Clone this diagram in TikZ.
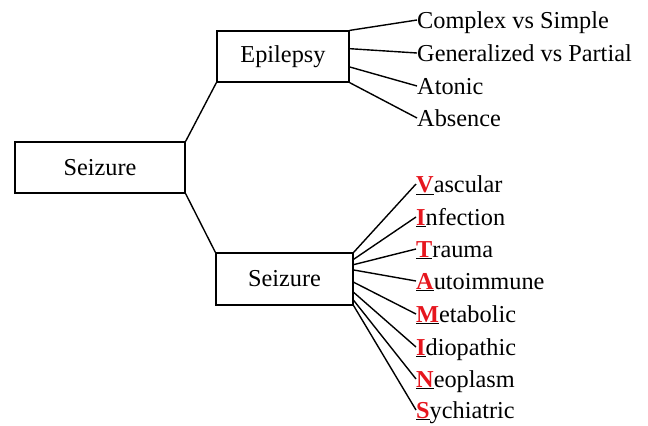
\documentclass[tikz,border=0pt]{standalone}
\usepackage{fontspec}
\setmainfont{LiberationSerif}[Extension=.ttf, UprightFont=*-Regular,
  BoldFont=*-Bold, ItalicFont=*-Italic, BoldItalicFont=*-BoldItalic]
\usetikzlibrary{calc}
\definecolor{initred}{RGB}{230,22,30}
\newcommand{\initial}[1]{\underline{\textcolor{initred}{\textbf{#1}}}}
\begin{document}
\begin{tikzpicture}[x=1bp,y=-1bp,
  box/.style={draw, line width=1.2bp, minimum height=51bp, inner sep=0pt,
    font=\fontsize{24.3bp}{28bp}\selectfont},
  leaf/.style={anchor=west, inner sep=0pt, text height=19bp, text depth=3bp,
    font=\fontsize{24.3bp}{28bp}\selectfont},
  link/.style={line width=1.4bp}]
\useasboundingbox (0,0) rectangle (648,425);

% boxes
\node[box, minimum width=170bp] (root) at (100,167.5) {Seizure};
\node[box, minimum width=132bp] (epi) at (283,56.5) {Epilepsy};
\node[box, minimum width=137bp, minimum height=52bp] (sz) at (284.5,279) {Seizure};

% links from the root
\draw[link] (root.north east) -- (epi.south west);
\draw[link] (root.south east) -- (sz.north west);

% epilepsy subtypes
\node[leaf] (e1) at (417,20) {Complex vs Simple};
\node[leaf] (e2) at (417,53) {Generalized vs Partial};
\node[leaf] (e3) at (417,86) {Atonic};
\node[leaf] (e4) at (417,118) {Absence};

\foreach \n/\t in {e1/0, e2/0.35, e3/0.7, e4/1}
  \draw[link] ($(epi.north east)!\t!(epi.south east)$) -- (\n.west);

% causes (VITAMINS)
\node[leaf] (c1) at (416,184) {\initial{V}ascular};
\node[leaf] (c2) at (416,217) {\initial{I}nfection};
\node[leaf] (c3) at (416,249) {\initial{T}rauma};
\node[leaf] (c4) at (416,281) {\initial{A}utoimmune};
\node[leaf] (c5) at (416,314) {\initial{M}etabolic};
\node[leaf] (c6) at (416,347) {\initial{I}diopathic};
\node[leaf] (c7) at (416,379) {\initial{N}eoplasm};
\node[leaf] (c8) at (416,410) {\initial{S}ychiatric};

\foreach \n/\t in {c1/0, c2/0.13, c3/0.23, c4/0.33, c5/0.56, c6/0.75, c7/0.9, c8/1}
  \draw[link] ($(sz.north east)!\t!(sz.south east)$) -- (\n.west);
\end{tikzpicture}
\end{document}
